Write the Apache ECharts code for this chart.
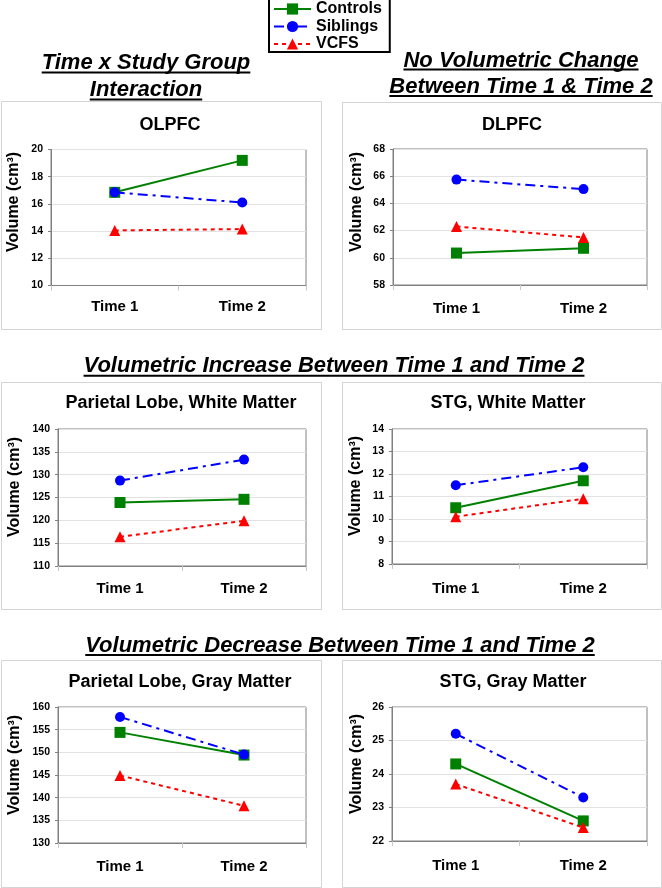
<!DOCTYPE html>
<html><head><meta charset="utf-8">
<script src="https://cdn.jsdelivr.net/npm/echarts@6/dist/echarts.min.js"></script>
<style>html,body{margin:0;padding:0;background:#fff}#c{width:662px;height:888px}</style>
</head><body><div id="c"></div>
<script>
const FONT = '"Liberation Sans", Arial, Helvetica, sans-serif';

// ---- data ----
const categories = ['Time 1', 'Time 2'];
const groupNames = ['Controls', 'Siblings', 'VCFS'];
const panelTitles = ['OLPFC', 'DLPFC', 'Parietal Lobe, White Matter', 'STG, White Matter', 'Parietal Lobe, Gray Matter', 'STG, Gray Matter'];
const yAxisName = 'Volume (cm³)';
const yMins = [10, 58, 110, 8, 130, 22];
const yMaxs = [20, 68, 140, 14, 160, 26];
const yIntervals = [2, 2, 5, 1, 5, 1];

const olpfcControls = [16.85, 19.2];
const olpfcSiblings = [16.85, 16.1];
const olpfcVCFS = [14.05, 14.15];

const dlpfcControls = [60.35, 60.7];
const dlpfcSiblings = [65.75, 65.05];
const dlpfcVCFS = [62.3, 61.5];

const parietalWMControls = [123.9, 124.6];
const parietalWMSiblings = [128.7, 133.3];
const parietalWMVCFS = [116.4, 119.9];

const stgWMControls = [10.5, 11.7];
const stgWMSiblings = [11.5, 12.3];
const stgWMVCFS = [10.1, 10.9];

const parietalGMControls = [154.4, 149.4];
const parietalGMSiblings = [157.8, 149.5];
const parietalGMVCFS = [144.9, 138.2];

const stgGMControls = [24.3, 22.6];
const stgGMSiblings = [25.2, 23.3];
const stgGMVCFS = [23.7, 22.4];

const headlineTexts = [
  'Time x Study Group', 'Interaction',
  'No Volumetric Change', 'Between Time 1 & Time 2',
  'Volumetric Increase Between Time 1 and Time 2',
  'Volumetric Decrease Between Time 1 and Time 2'
];

// ---- layout (positions / styles) ----
const panelData = [
  [olpfcControls, olpfcSiblings, olpfcVCFS],
  [dlpfcControls, dlpfcSiblings, dlpfcVCFS],
  [parietalWMControls, parietalWMSiblings, parietalWMVCFS],
  [stgWMControls, stgWMSiblings, stgWMVCFS],
  [parietalGMControls, parietalGMSiblings, parietalGMVCFS],
  [stgGMControls, stgGMSiblings, stgGMVCFS]
];
const gridBoxes = [
  {l: 51, r: 306, t: 149.5, b: 285.5},
  {l: 393, r: 647, t: 149, b: 285},
  {l: 58, r: 306, t: 429, b: 566},
  {l: 392, r: 647, t: 429, b: 564},
  {l: 58, r: 306, t: 707, b: 843},
  {l: 392, r: 647, t: 707, b: 841}
];
const xLabelMargins = [14, 16, 15, 17, 16, 17];
const cards = [
  {x: 1, y: 101, w: 320, h: 228}, {x: 342, y: 102, w: 319, h: 227},
  {x: 1, y: 382, w: 320, h: 227}, {x: 342, y: 382, w: 319, h: 227},
  {x: 1, y: 660, w: 320, h: 227}, {x: 342, y: 660, w: 319, h: 227}
];
const titlePos = [[170, 125], [512, 125], [181, 403], [508, 403], [180, 682], [513, 682]];
const yNamePos = [[14, 202], [357, 202], [14.5, 487], [356, 486], [14.5, 765], [356.5, 764]];
const headlinePos = [
  [146, 63, 72.5], [146, 90, 99.5],
  [521, 60.5, 69.5], [521, 86.5, 96],
  [334, 366, 375.8], [340, 645.5, 655]
];

const seriesStyles = [
  {color: '#008000', symbol: 'rect', symbolSize: 11, dash: 'solid'},
  {color: '#0000ff', symbol: 'circle', symbolSize: 10, dash: [10, 5, 3, 5]},
  {color: '#ff0000', symbol: 'triangle', symbolSize: 11, dash: [4, 4]}
];

const measureCtx = document.createElement('canvas').getContext('2d');

const grid = [], xAxis = [], yAxis = [], series = [], graphic = [];
gridBoxes.forEach((g, i) => {
  grid.push({left: g.l, top: g.t, width: g.r - g.l, height: g.b - g.t, show: true,
    borderColor: '#808080', borderWidth: 1, backgroundColor: 'transparent'});
  xAxis.push({type: 'category', gridIndex: i, data: categories, boundaryGap: true,
    axisLine: {lineStyle: {color: '#808080', width: 1}},
    axisTick: {show: true, length: 5, lineStyle: {color: '#c8c8c8'}},
    axisLabel: {color: '#000', fontFamily: FONT, fontWeight: 'bold', fontSize: 15, margin: xLabelMargins[i]}
  });
  yAxis.push({type: 'value', gridIndex: i, min: yMins[i], max: yMaxs[i], interval: yIntervals[i],
    axisLine: {show: true, lineStyle: {color: '#808080', width: 1}},
    axisTick: {show: true, length: 3, lineStyle: {color: '#808080'}},
    splitLine: {show: true, lineStyle: {color: '#e2e2e2', width: 1}},
    axisLabel: {color: '#000', fontFamily: FONT, fontWeight: 'bold', fontSize: 10.5, margin: 8}
  });
  panelData[i].forEach((vals, k) => {
    const s = seriesStyles[k];
    series.push({type: 'line', name: groupNames[k], xAxisIndex: i, yAxisIndex: i,
      data: vals, symbol: s.symbol, symbolSize: s.symbolSize, showSymbol: true,
      itemStyle: {color: s.color}, lineStyle: {color: s.color, width: 2, type: s.dash},
      z: 2 + k, animation: false});
  });
  const c = cards[i];
  graphic.push({type: 'rect', z: -10, shape: {x: c.x + 0.5, y: c.y + 0.5, width: c.w, height: c.h},
    style: {fill: '#fff', stroke: '#d4d4d4', lineWidth: 1}});
  graphic.push({type: 'text', x: titlePos[i][0], y: titlePos[i][1],
    style: {text: panelTitles[i], font: 'bold 18px ' + FONT, fill: '#000', textAlign: 'center', textVerticalAlign: 'middle'}});
  graphic.push({type: 'text', x: yNamePos[i][0], y: yNamePos[i][1], rotation: Math.PI / 2,
    style: {text: yAxisName, font: 'bold 16px ' + FONT, fill: '#000', textAlign: 'center', textVerticalAlign: 'middle'}});
});

headlineTexts.forEach((t, i) => {
  const [cx, cy, uy] = headlinePos[i];
  const font = 'italic bold 22px ' + FONT;
  measureCtx.font = font;
  const w = measureCtx.measureText(t).width;
  graphic.push({type: 'text', x: cx, y: cy,
    style: {text: t, font: font, fill: '#000', textAlign: 'center', textVerticalAlign: 'middle'}});
  graphic.push({type: 'rect', shape: {x: cx - w / 2, y: uy - 1, width: w, height: 2}, style: {fill: '#000'}});
});

const chart = echarts.init(document.getElementById('c'), null, {renderer: 'canvas'});
chart.setOption({
  backgroundColor: '#fff',
  animation: false,
  legend: {
    data: groupNames, orient: 'vertical', left: 269, top: -4,
    itemWidth: 37, itemHeight: 14, itemGap: 1.5,
    padding: [5, 8, 0, 4], borderColor: '#000', borderWidth: 2, backgroundColor: '#fff',
    textStyle: {color: '#000', fontFamily: FONT, fontWeight: 'bold', fontSize: 16, lineHeight: 14},
    selectedMode: false
  },
  grid, xAxis, yAxis, series, graphic
});
</script></body></html>
